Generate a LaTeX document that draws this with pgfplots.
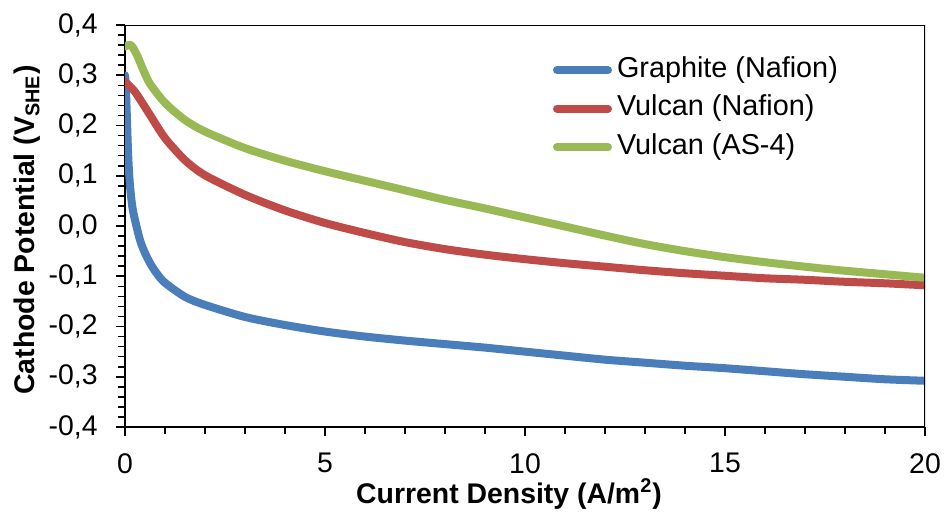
\documentclass[border=0pt]{standalone}
\usepackage{fontspec}
\setmainfont{Liberation Sans}
\usepackage{pgfplots}
\pgfplotsset{compat=1.18}
\definecolor{cblue}{HTML}{4A7EBB}
\definecolor{cred}{HTML}{BE4B48}
\definecolor{cgreen}{HTML}{98B954}

\begin{document}
\begin{tikzpicture}
\useasboundingbox (-62.5pt,-44.5pt) rectangle (410pt,213.5pt);
\begin{axis}[scale only axis,width=400pt,height=201pt,
  at={(0,0)},anchor=south west,
  xmin=0,xmax=20,ymin=-0.4,ymax=0.4,
  axis x line*=bottom,axis y line*=left,
  axis line style={-,line width=1pt,black},
  xtick={0,5,10,15,20},xticklabels={0,5,10,15,20},
  ytick={-0.4,-0.3,-0.2,-0.1,0,0.1,0.2,0.3,0.4},
  yticklabels={{-0,4},{-0,3},{-0,2},{-0,1},{0,0},{0,1},{0,2},{0,3},{0,4}},
  minor x tick num=4,minor y tick num=4,
  tick align=outside,
  major tick length=4.5pt,minor tick length=3.3pt,
  every tick/.style={black,line width=0.8pt},
  tick label style={font=\fontsize{14.2}{16}\selectfont},
  yticklabel style={inner xsep=9pt},
  xticklabel style={inner ysep=8.5pt},
  xlabel={\textbf{Current Density (A/m\textsuperscript{2})}},
  ylabel={\textbf{Cathode Potential (V\textsubscript{SHE})}},
  label style={font=\fontsize{14.2}{16}\selectfont},
  xlabel style={at={(axis description cs:0.48,-0.19)},anchor=base},
  ylabel style={at={(axis description cs:-0.1125,0.49)},anchor=base},
  legend cell align=left,
  legend style={draw=none,fill=none,inner sep=0pt,outer sep=0pt,
    at={(0.53,0.935)},anchor=north west,row sep=0.25pt,
    font=\fontsize{14.4}{16}\selectfont,
    nodes={inner xsep=0.5pt,inner ysep=3pt,text height=10pt,text depth=3pt}},
  legend image code/.code={
    \draw[#1,line cap=round] (2pt,0pt) -- (27.5pt,0pt);
    \path (0pt,0pt) (29.5pt,0pt);},
  every axis plot/.append style={line width=4pt,line cap=round,line join=round,smooth,tension=0.45},
]
\addplot[cblue] coordinates {
  (0,0.300)(0.02,0.280)(0.05,0.210)(0.08,0.140)(0.12,0.085)(0.18,0.040)
  (0.25,0.012)(0.375,-0.028)(0.5,-0.054)(0.65,-0.077)(0.8,-0.095)(1,-0.113)
  (1.5,-0.141)(2,-0.157)(3,-0.181)(4,-0.197)(5,-0.210)(6,-0.220)(7,-0.228)
  (8,-0.235)(9,-0.242)(10,-0.250)(11,-0.258)(12,-0.266)(13,-0.272)(14,-0.278)
  (15,-0.283)(16,-0.289)(17,-0.295)(18,-0.300)(19,-0.305)(20,-0.308)};
\addlegendentry{Graphite (Nafion)}
\addplot[cred] coordinates {
  (0,0.287)(0.25,0.267)(0.625,0.221)(1,0.175)(1.5,0.131)(2,0.101)(3,0.062)
  (4,0.031)(5,0.006)(6,-0.014)(7,-0.032)(8,-0.046)(9,-0.057)(10,-0.066)
  (11,-0.074)(12,-0.081)(13,-0.088)(14,-0.094)(15,-0.099)(16,-0.104)
  (17,-0.107)(18,-0.111)(19,-0.114)(20,-0.118)};
\addlegendentry{Vulcan (Nafion)}
\addplot[cgreen] coordinates {
  (0,0.357)(0.15,0.360)(0.3,0.340)(0.46,0.310)(0.625,0.283)(1,0.245)(1.5,0.211)
  (2,0.188)(3,0.155)(4,0.130)(5,0.109)(6,0.090)(7,0.071)(8,0.052)(9,0.035)
  (10,0.017)(11,-0.001)(12,-0.019)(13,-0.036)(14,-0.050)(15,-0.062)
  (16,-0.072)(17,-0.081)(18,-0.089)(19,-0.096)(20,-0.103)};
\addlegendentry{Vulcan (AS-4)}
\draw[line width=0.6pt,black] (rel axis cs:0,1) -- (rel axis cs:1,1) -- (rel axis cs:1,0);
\end{axis}
\end{tikzpicture}
\end{document}
